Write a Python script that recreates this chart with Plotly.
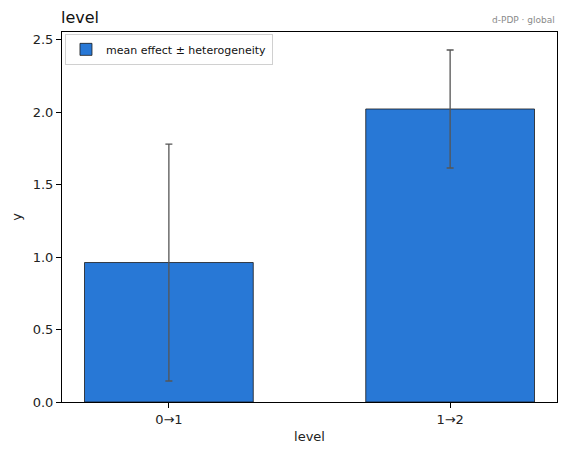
import plotly.graph_objects as go

categories = ["0→1", "1→2"]
mean_effect = [0.962, 2.021]
heterogeneity = [0.817, 0.407]

fig = go.Figure()
fig.add_trace(go.Bar(
    x=[0, 1], y=mean_effect, width=0.6,
    marker=dict(color="#2878d6", line=dict(color="#1a1a1a", width=0.8)),
    error_y=dict(type="data", array=heterogeneity, visible=True,
                 color="#555555", thickness=1.3, width=3.5),
    name="mean effect ± heterogeneity", showlegend=True,
))

font_family = "DejaVu Sans"
fig.update_layout(
    width=567, height=455,
    margin=dict(l=62, r=10, t=32, b=53),
    plot_bgcolor="white", paper_bgcolor="white",
    font=dict(family=font_family, size=13, color="#222"),
    showlegend=True,
    legend=dict(x=0.006, y=0.995, xanchor="left", yanchor="top",
                bgcolor="rgba(255,255,255,0.8)", bordercolor="#d0d0d0", borderwidth=1,
                font=dict(size=11, family=font_family, color="#111"),
                itemwidth=30, tracegroupgap=0),
    xaxis=dict(range=[-0.38, 1.38], tickmode="array", tickvals=[0, 1], ticktext=categories,
               showline=True, linecolor="black", linewidth=1, mirror=True,
               ticks="outside", ticklen=5, tickcolor="black", showgrid=False, zeroline=False,
               title=dict(text="level", font=dict(size=13), standoff=6)),
    yaxis=dict(range=[0, 2.552], tickmode="array", tickvals=[0, 0.5, 1, 1.5, 2, 2.5],
               ticktext=["0.0", "0.5", "1.0", "1.5", "2.0", "2.5"],
               showline=True, linecolor="black", linewidth=1, mirror=True,
               ticks="outside", ticklen=5, tickcolor="black", showgrid=False, zeroline=False,
               title=dict(text="y", font=dict(size=13), standoff=8)),
    annotations=[
        dict(text="level", xref="paper", yref="paper", x=0, y=1, xanchor="left", yanchor="bottom",
             xshift=-3, yshift=3, showarrow=False, font=dict(size=16, color="#111")),
        dict(text="d-PDP · global", xref="paper", yref="paper", x=1, y=1, xanchor="right",
             yanchor="bottom", yshift=5, showarrow=False, font=dict(size=9, color="#8a8a8a")),
    ],
)

fig.write_html("out.html")
